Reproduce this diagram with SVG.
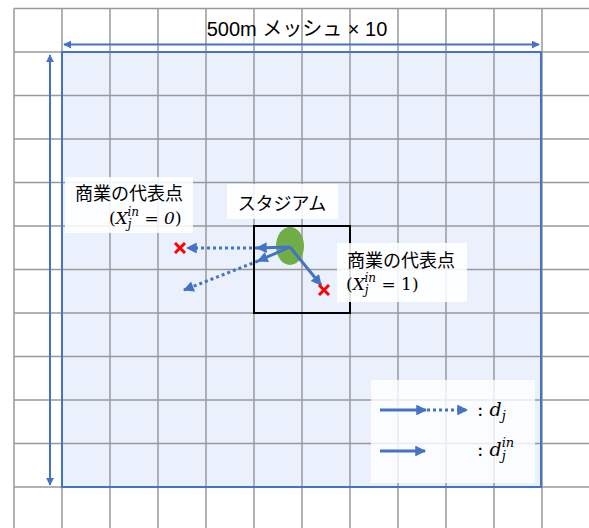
<svg xmlns="http://www.w3.org/2000/svg" width="589" height="528" viewBox="0 0 589 528">
<defs>
<style>
.grid{stroke:#999999;stroke-width:1.5;fill:none}
.arr{stroke:#4472C4;stroke-width:3;fill:none}
.dot{stroke:#4472C4;stroke-width:3;fill:none;stroke-dasharray:3 3}
.dim{stroke:#4472C4;stroke-width:2;fill:none}
.lbl{fill:#ffffff;fill-opacity:0.88}
.jp{font-family:"Liberation Sans","Noto Sans CJK JP",sans-serif;font-size:18px;fill:#000}
.math{font-family:"DejaVu Serif","Liberation Serif",serif;font-style:italic;font-size:17px;fill:#000}
.x{stroke:#FF0000;stroke-width:3;fill:none}
</style>
<marker id="ah" viewBox="0 0 10 10" refX="9" refY="5" markerWidth="4" markerHeight="3.6" orient="auto" markerUnits="strokeWidth">
<path d="M0,0 L10,5 L0,10 z" fill="#4472C4"/>
</marker>
<marker id="ahs" viewBox="0 0 10 10" refX="9" refY="5" markerWidth="4" markerHeight="4" orient="auto-start-reverse" markerUnits="strokeWidth">
<path d="M0,0 L10,5 L0,10 z" fill="#4472C4"/>
</marker>
</defs>
<rect x="0" y="0" width="589" height="528" fill="#ffffff"/>
<g id="area">
<rect x="62" y="52" width="479" height="435" fill="#EAF1FC"/>
</g>
<g id="grid" class="grid">
<path d="M14,8.5V528 M62,8.5V528 M110,8.5V528 M158,8.5V528 M206,8.5V528 M254,8.5V528 M302,8.5V528 M350,8.5V528 M398,8.5V528 M446,8.5V528 M494,8.5V528 M542,8.5V528"/>
<path d="M14,8.5H589 M14,52H589 M14,95.5H589 M14,139H589 M14,182.5H589 M14,226H589 M14,269.5H589 M14,313H589 M14,356.5H589 M14,400H589 M14,443.5H589 M14,487H589"/>
</g>
<g id="area-border">
<rect x="62" y="52" width="479" height="435" fill="none" stroke="#4472C4" stroke-width="2"/>
</g>
<g id="stadium-box">
<rect x="254" y="226" width="96" height="87" fill="none" stroke="#000" stroke-width="2"/>
</g>
<g id="dimensions">
<line class="dim" x1="64" y1="44.5" x2="539" y2="44.5" marker-start="url(#ahs)" marker-end="url(#ahs)"/>
<line class="dim" x1="50" y1="55" x2="50" y2="485" marker-start="url(#ahs)" marker-end="url(#ahs)"/>
<text class="jp" x="297" y="36" text-anchor="middle" style="font-size:20px">500m メッシュ × 10</text>
</g>
<g id="stadium">
<ellipse cx="290" cy="246" rx="14" ry="19" fill="#70AD47"/>
</g>
<g id="label-stadium">
<rect class="lbl" x="227" y="184" width="111" height="35"/>
<text class="jp" x="282" y="210" text-anchor="middle">スタジアム</text>
</g>
<g id="label-commercial-0">
<rect class="lbl" x="65" y="177" width="128" height="56"/>
<text class="jp" x="75" y="200">商業の代表点</text>
<text class="math" x="109" y="224"><tspan font-style="normal">(</tspan>X<tspan font-size="12" dy="4">j</tspan><tspan font-size="12" dx="-4" dy="-12">in</tspan><tspan dy="8"> </tspan><tspan font-style="normal">=</tspan> 0<tspan font-style="normal">)</tspan></text>
</g>
<g id="label-commercial-1">
<rect class="lbl" x="337" y="243" width="130" height="59"/>
<text class="jp" x="347" y="267">商業の代表点</text>
<text class="math" x="346" y="290"><tspan font-style="normal">(</tspan>X<tspan font-size="12" dy="4">j</tspan><tspan font-size="12" dx="-4" dy="-12">in</tspan><tspan dy="8"> </tspan><tspan font-style="normal">= 1)</tspan></text>
</g>
<g id="connectors">
<line class="dot" x1="258" y1="248" x2="187" y2="248" marker-end="url(#ah)"/>
<line class="arr" x1="290" y1="247" x2="257" y2="248" marker-end="url(#ah)"/>
<line class="dot" x1="258" y1="261" x2="184" y2="290" marker-end="url(#ah)"/>
<line class="arr" x1="290" y1="247" x2="258" y2="261" marker-end="url(#ah)"/>
<line class="arr" x1="290" y1="247" x2="321" y2="285" marker-end="url(#ah)"/>
</g>
<g id="point-0">
<path class="x" d="M175,243 L185,253 M185,243 L175,253"/>
</g>
<g id="point-1">
<path class="x" d="M319,285 L329,295 M329,285 L319,295"/>
</g>
<g id="legend">
<rect x="371" y="380" width="164" height="103" fill="#ffffff" fill-opacity="0.8"/>
<line class="arr" x1="380" y1="410" x2="426" y2="410" marker-end="url(#ah)"/>
<line class="dot" x1="427" y1="410" x2="467" y2="410" marker-end="url(#ah)"/>
<text class="math" x="477" y="416" style="font-size:19px"><tspan font-style="normal">: </tspan>d<tspan font-size="13" dy="4">j</tspan></text>
<line class="arr" x1="380" y1="451" x2="425" y2="451" marker-end="url(#ah)"/>
<text class="math" x="477" y="456" style="font-size:19px"><tspan font-style="normal">: </tspan>d<tspan font-size="13" dy="4">j</tspan><tspan font-size="13" dx="-4" dy="-13">in</tspan></text>
</g>
</svg>
